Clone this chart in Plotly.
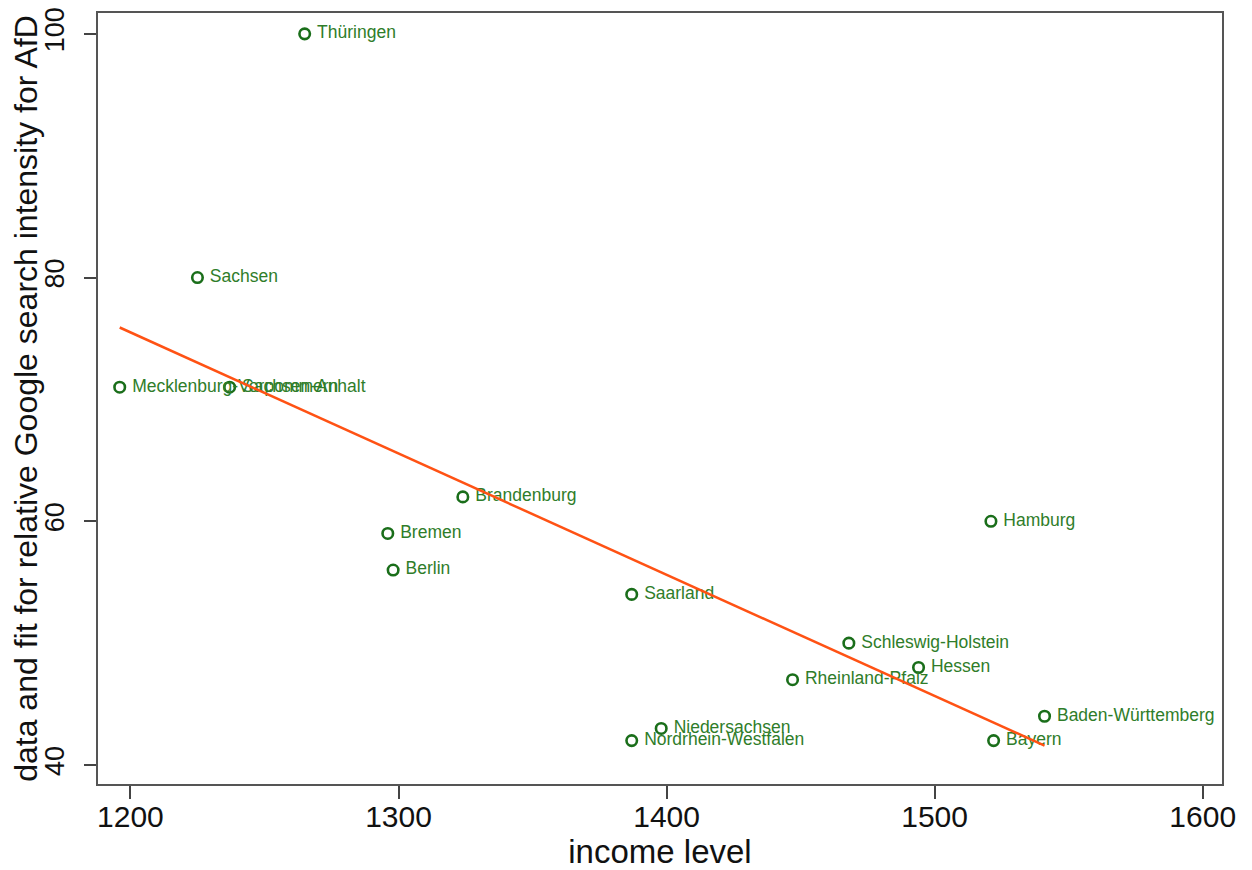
import numpy as np
import plotly.graph_objects as go

states = ["Thüringen", "Sachsen", "Mecklenburg-Vorpommern", "Sachsen-Anhalt",
          "Brandenburg", "Bremen", "Berlin", "Saarland", "Hamburg",
          "Schleswig-Holstein", "Hessen", "Rheinland-Pfalz", "Niedersachsen",
          "Nordrhein-Westfalen", "Baden-Württemberg", "Bayern"]
income = [1265, 1225, 1196, 1237, 1324, 1296, 1298, 1387, 1521,
          1468, 1494, 1447, 1398, 1387, 1541, 1522]
search = [100, 80, 71, 71, 62, 59, 56, 54, 60, 50, 48, 47, 43, 42, 44, 42]

x_ticks = [1200, 1300, 1400, 1500, 1600]
y_ticks = [40, 60, 80, 100]

slope, intercept = np.polyfit(income, search, 1)
fit_x = [min(income), max(income)]
fit_y = [intercept + slope * v for v in fit_x]

font_fam = "Liberation Sans, Arial, sans-serif"

fig = go.Figure()
fig.add_trace(go.Scatter(
    x=income, y=search, mode="markers+text", text=states,
    texttemplate="\u00a0%{text}",
    textposition="middle right",
    textfont=dict(family=font_fam, size=17.5, color="#2f7d2a"),
    marker=dict(symbol="circle-open", size=10.5, color="#1a6e1a", line=dict(width=2.6)),
    showlegend=False, cliponaxis=False, hoverinfo="x+y+text",
))
fig.add_trace(go.Scatter(
    x=fit_x, y=fit_y, mode="lines",
    line=dict(color="#ff5214", width=2.5), showlegend=False,
))

# page body has an 8px margin, so the figure is sized to the remaining viewport
fig.update_layout(
    width=1244, height=862,
    margin=dict(l=90, r=30, t=5, b=86),
    paper_bgcolor="white", plot_bgcolor="white",
    font=dict(family=font_fam, color="#111111"),
)
fig.update_xaxes(
    range=[1187.9, 1607.2], tickvals=x_ticks, ticks="outside", ticklen=13,
    tickwidth=1.5, tickcolor="#444", showgrid=False, zeroline=False,
    showline=True, linecolor="#555", linewidth=2, mirror=True, automargin=False,
    tickfont=dict(size=30), ticklabelstandoff=-8, ticklabeloverflow="allow",
    title=dict(text="income level", font=dict(size=33), standoff=14),
)
fig.update_yaxes(
    range=[38.44, 101.71], tickvals=y_ticks, ticks="outside", ticklen=12,
    tickwidth=1.5, tickcolor="#444", showgrid=False, zeroline=False,
    showline=True, linecolor="#555", linewidth=2, mirror=True, tickangle=-90,
    automargin=False, tickfont=dict(size=27), ticklabelstandoff=9,
    ticklabeloverflow="allow",
    title=dict(text="data and fit for relative Google search intensity for AfD",
               font=dict(size=32), standoff=10),
)

fig.write_html("out.html")
